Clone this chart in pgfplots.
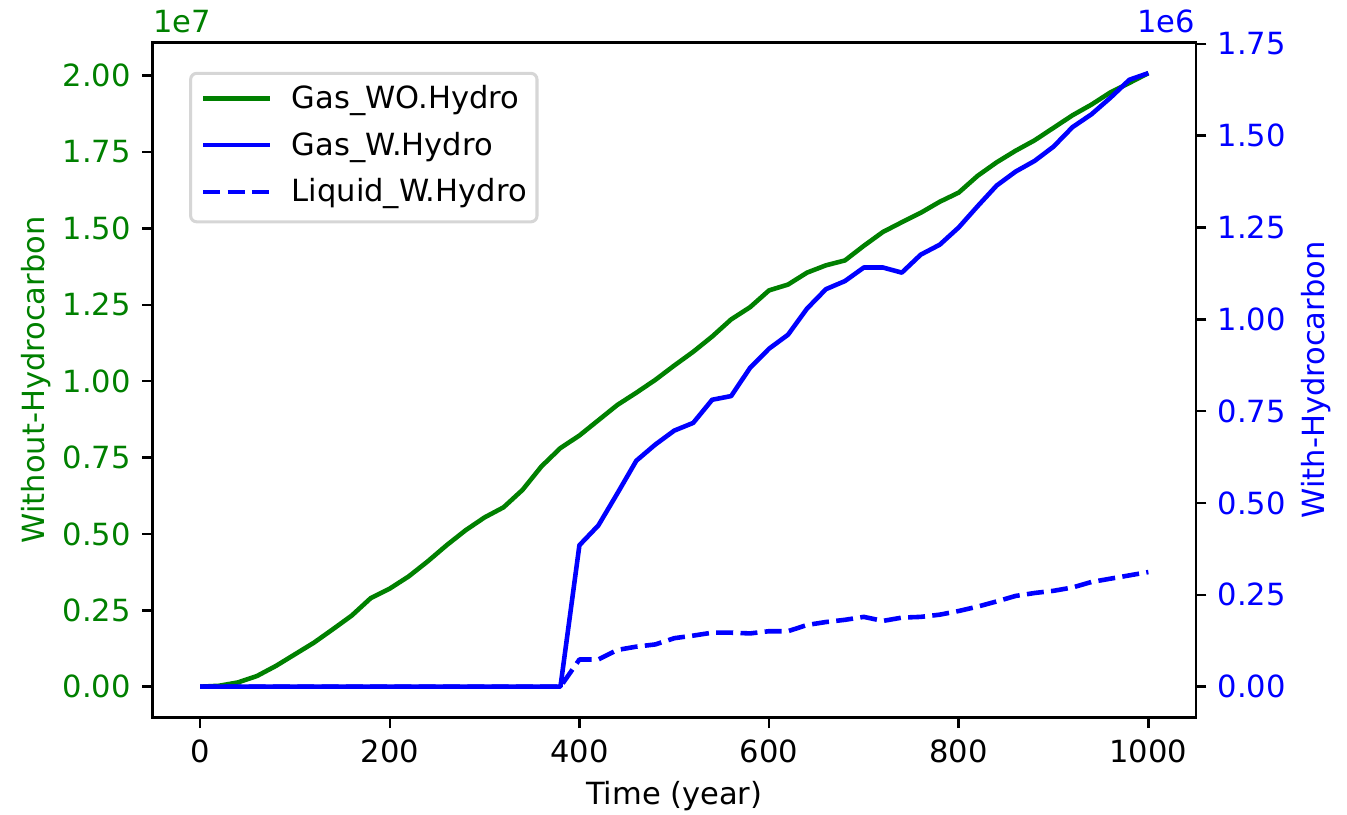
\documentclass[border=0pt]{standalone}
\usepackage{pgfplots}
\pgfplotsset{compat=1.18}
\usepackage{pgfplotstable}
\usepackage{fontspec}
\setmainfont{DejaVu Sans}

\definecolor{mplgreen}{RGB}{0,128,0}
\definecolor{mplblue}{RGB}{0,0,255}
\definecolor{legendedge}{RGB}{214,214,214}

% Gas production without hydrocarbon (units of 1e7)
\pgfplotstableread{
t v
0 0
20 0.003
40 0.014
60 0.035
80 0.068
100 0.106
120 0.144
140 0.188
160 0.233
180 0.290
200 0.321
220 0.361
240 0.410
260 0.463
280 0.512
300 0.554
320 0.587
340 0.644
360 0.721
380 0.781
400 0.822
420 0.872
440 0.922
460 0.962
480 1.004
500 1.051
520 1.096
540 1.146
560 1.202
580 1.242
600 1.297
620 1.316
640 1.355
660 1.379
680 1.395
700 1.443
720 1.488
740 1.520
760 1.551
780 1.587
800 1.617
820 1.672
840 1.716
860 1.754
880 1.788
900 1.829
920 1.870
940 1.905
960 1.945
980 1.976
1000 2.008
}\gaswo

% Gas and liquid with hydrocarbon (units of 1e6)
\pgfplotstableread{
t gas liquid
0 0 0
20 0 0
40 0 0
60 0 0
80 0 0
100 0 0
120 0 0
140 0 0
160 0 0
180 0 0
200 0 0
220 0 0
240 0 0
260 0 0
280 0 0
300 0 0
320 0 0
340 0 0
360 0 0
380 0 0
400 0.385 0.074
420 0.439 0.074
440 0.526 0.100
460 0.615 0.109
480 0.659 0.115
500 0.697 0.132
520 0.718 0.139
540 0.781 0.147
560 0.791 0.147
580 0.868 0.145
600 0.920 0.151
620 0.958 0.151
640 1.029 0.168
660 1.082 0.176
680 1.104 0.182
700 1.141 0.190
720 1.141 0.179
740 1.127 0.188
760 1.176 0.190
780 1.203 0.196
800 1.250 0.206
820 1.308 0.218
840 1.364 0.232
860 1.402 0.247
880 1.431 0.255
900 1.470 0.261
920 1.523 0.270
940 1.558 0.285
960 1.603 0.294
980 1.652 0.303
1000 1.670 0.312
}\whydro

\pgfplotsset{
  twin/.style={
    scale only axis, width=341.4pt, height=220.9pt,
    at={(0pt,0pt)}, anchor=south west,
    xmin=-50, xmax=1050,
    tick align=outside, major tick length=3.5pt,
    every tick/.style={black, line width=0.8pt},
    axis line style={line width=0.8pt},
    scaled ticks=false,
    xticklabel shift=3.5pt, yticklabel shift=3.5pt,
    /pgf/number format/assume math mode=true,
    xticklabel style={anchor=north, inner sep=0pt, /pgf/number format/1000 sep={}},
    every axis plot/.append style={line width=1.5pt, line join=round},
  },
  ynum/.style={
    yticklabel style={inner sep=0pt,
      /pgf/number format/fixed, /pgf/number format/fixed zerofill,
      /pgf/number format/precision=2},
  },
}

\begin{document}
\begin{tikzpicture}
% left axis: without hydrocarbon
\begin{axis}[twin, ynum,
  ymin=-0.1004, ymax=2.1084,
  xtick={0,200,400,600,800,1000},
  ytick={0,0.25,0.5,0.75,1,1.25,1.5,1.75,2},
  xtick pos=left, ytick pos=left,
  yticklabel style={anchor=east, text=mplgreen},
]
\addplot[mplgreen] table[x=t, y=v] {\gaswo};
\end{axis}

% right axis: with hydrocarbon
\begin{axis}[twin, ynum,
  ymin=-0.0835, ymax=1.7535,
  axis x line=none, axis y line*=right,
  axis line style={-},
  ytick={0,0.25,0.5,0.75,1,1.25,1.5,1.75},
  yticklabel style={anchor=west, text=mplblue},
  legend cell align=left,
  legend image code/.code={\draw[#1] (0pt,0.8pt) -- (21.9pt,0.8pt);},
  legend style={
    at={(0.0349,0.9565)}, anchor=north west,
    draw=legendedge, line width=1pt, rounded corners=2pt,
    fill=white, fill opacity=0.8, draw opacity=1, text opacity=1,
    inner xsep=3.4pt, inner ysep=1.35pt,
    column sep=6.3pt, row sep=0pt,
    nodes={inner xsep=0pt, inner ysep=2.15pt, text height=8pt, text depth=3pt},
  },
]
\addlegendimage{mplgreen, line width=1.5pt}
\addlegendentry{Gas\_WO.Hydro}
\addplot[mplblue] table[x=t, y=gas] {\whydro};
\addlegendentry{Gas\_W.Hydro}
\addplot[mplblue, dash pattern=on 5.55pt off 2.4pt] table[x=t, y=liquid] {\whydro};
\addlegendentry{Liquid\_W.Hydro}
\end{axis}

% scale factors, axis titles
\node[anchor=base west, inner sep=0pt, text=mplgreen] at (0pt,224pt) {1e7};
\node[anchor=base east, inner sep=0pt, text=mplblue] at (341.4pt,224pt) {1e6};
\node[anchor=base, inner sep=0pt] at (170.7pt,-28.6pt) {Time (year)};
\node[rotate=90, anchor=base, inner sep=0pt, text=mplgreen] at (-35.5pt,110.45pt) {Without-Hydrocarbon};
\node[rotate=90, anchor=base, inner sep=0pt, text=mplblue] at (383.5pt,110.45pt) {With-Hydrocarbon};

\pgfresetboundingbox
\useasboundingbox (-49.98pt,-31.9pt) rectangle (390.9pt,234.8pt);
\end{tikzpicture}
\end{document}
